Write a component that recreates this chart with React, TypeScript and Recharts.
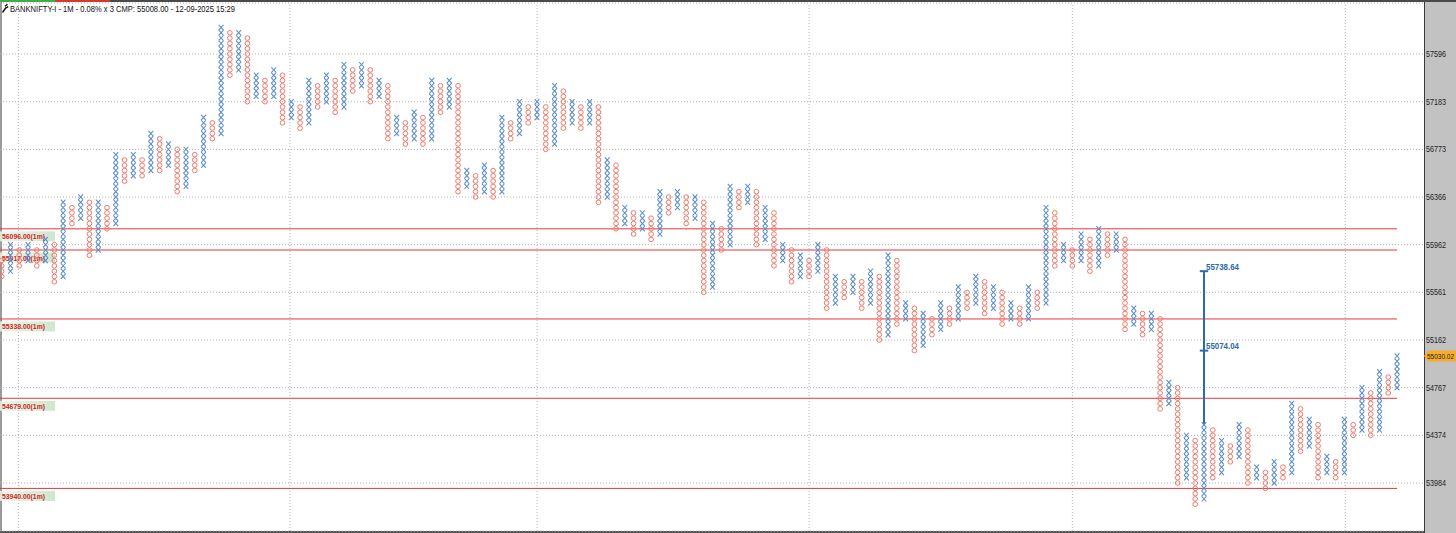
import React from 'react';
import { ComposedChart, Scatter, XAxis, YAxis, CartesianGrid, ReferenceLine } from 'recharts';

// ---- chart data ----
const TITLE = 'BANKNIFTY-I - 1M - 0.08% x 3 CMP: 55008.00 - 12-09-2025 15:29';
const BOX_PCT = 0.08; // box size in percent
const BASE_PRICE = 53984; // price of box number 0

const yTickLabels = [53984, 54374, 54767, 55162, 55561, 55962, 56366, 56773, 57183, 57596];

// Point & Figure columns (box numbers counted from the 53984 level)
const columnTypes = (
  'OXOXOXOXOXOXOXOXOXOX' + 'OXOXOXOXOXOXOXOXOXOX' + 'OXOXOXOXOXOXOXOXOXOX' + 'OXOXOXOXOXOXOXOXOXOX' +
  'OXOXOXOXOXOXOXOXOXOX' + 'OXOXOXOXOXOXOXOXOXOX' + 'OXOXOXOXOXOXOXOXOXOX' + 'OXOXOXOXOXOXOXOXOXOX'
).split('');

const columnHighs = [
  42, 45, 44, 45, 44, 46, 45, 53, 52, 54,
  53, 53, 52, 62, 61, 62, 61, 66, 65, 64,
  63, 63, 62, 69, 68, 86, 85, 85, 84, 77,
  76, 78, 77, 72, 71, 76, 75, 77, 76, 79,
  78, 79, 78, 76, 75, 69, 68, 70, 69, 76,
  75, 76, 75, 59, 58, 60, 59, 69, 68, 72,
  71, 72, 71, 75, 74, 72, 71, 72, 71, 61,
  60, 52, 51, 51, 50, 55, 54, 55, 54, 54,
  53, 49, 48, 56, 55, 56, 55, 52, 51, 45,
  44, 43, 42, 45, 44, 39, 38, 39, 38, 40,
  39, 43, 42, 34, 33, 32, 31, 34, 33, 37,
  36, 39, 38, 37, 36, 34, 33, 37, 36, 52,
  51, 45, 44, 47, 46, 48, 47, 47, 46, 33,
  32, 32, 31, 19, 18, 9, 8, 11, 10, 8,
  7, 11, 10, 3, 2, 4, 3, 15, 14, 12,
  11, 5, 4, 12, 11, 18, 17, 21, 20, 24,
];

const columnLows = [
  39, 40, 41, 42, 41, 42, 38, 39, 49, 50,
  43, 44, 48, 49, 57, 58, 58, 59, 59, 60,
  55, 56, 59, 60, 65, 66, 77, 78, 72, 73,
  72, 73, 68, 69, 67, 68, 71, 72, 70, 71,
  74, 75, 72, 73, 65, 66, 64, 65, 64, 65,
  70, 71, 55, 56, 54, 55, 54, 55, 65, 66,
  68, 69, 63, 64, 67, 68, 67, 68, 53, 54,
  48, 49, 47, 48, 46, 47, 51, 52, 49, 50,
  36, 37, 44, 45, 52, 53, 45, 46, 41, 42,
  38, 39, 39, 40, 33, 34, 35, 36, 33, 34,
  27, 28, 30, 31, 25, 26, 28, 29, 30, 31,
  33, 34, 32, 33, 30, 31, 30, 31, 33, 34,
  41, 42, 41, 42, 40, 41, 43, 44, 29, 30,
  28, 29, 14, 15, 0, 1, -4, -3, 1, 2,
  4, 5, 0, 1, -1, 0, 1, 2, 6, 7,
  1, 2, 1, 2, 9, 10, 9, 10, 17, 18,
];

const levelPrices = [56096, 55917, 55338, 54679, 53940];
const levelTags = ['56096.00(1m)', '55917.00(1m)', '55338.00(1m)', '54679.00(1m)', '53940.00(1m)'];

const countColumn = 137; // column carrying the vertical count
const countTargets = [55738.64, 55074.04];
const lastPrice = 55030.02;

const sessionBreaks = [1.9, 32.85, 61, 92, 122, 153.1]; // in column units

// ---- styling / layout ----
const W = 1456;
const H = 533;
const AXIS_W = 32;
const X_COLOR = '#5b8dca';
const O_COLOR = '#ee7a6c';
const LEVEL_COLOR = '#e8353a';
const COUNT_COLOR = '#2d6aad';
const FONT = '"Liberation Sans", Arial, sans-serif';
const X_DOMAIN: [number, number] = [-0.194, 162.07];
const Y_DOMAIN: [number, number] = [-9.06, 90.63];

const boxOf = (price: number) => Math.log(price / BASE_PRICE) / Math.log(1 + BOX_PCT / 100);

const XMark = (p: any) => {
  const { cx, cy } = p;
  if (cx == null || cy == null) return <g />;
  const w = 2.4;
  const h = 2.6;
  return (
    <path
      d={`M${cx - w},${cy - h}L${cx + w},${cy + h}M${cx + w},${cy - h}L${cx - w},${cy + h}`}
      stroke={X_COLOR}
      strokeWidth={1.05}
      fill="none"
    />
  );
};

const OMark = (p: any) => {
  const { cx, cy } = p;
  if (cx == null || cy == null) return <g />;
  return <ellipse cx={cx} cy={cy} rx={2.35} ry={2.3} stroke={O_COLOR} strokeWidth={1} fill="none" />;
};

const PriceTick = (p: any) => {
  const { x, y, payload } = p;
  const label = yTickLabels.find((l) => Math.abs(boxOf(l) - payload.value) < 0.01);
  return (
    <text x={x} y={y} dy={3} fontSize={8.5} fill="#222" fontFamily={FONT} textLength={20} lengthAdjust="spacingAndGlyphs">
      {label}
    </text>
  );
};

const LevelTag = (p: any) => {
  const { viewBox, text, gid } = p;
  if (!viewBox) return null;
  const x = viewBox.x;
  const y = viewBox.y;
  return (
    <g>
      <defs>
        <linearGradient id={gid} x1="0" y1="0" x2="1" y2="0">
          <stop offset="0%" stopColor="#eaf5ea" stopOpacity={0.85} />
          <stop offset="100%" stopColor="#c4e2c4" stopOpacity={0.85} />
        </linearGradient>
      </defs>
      <rect x={x} y={y + 2.5} width={55} height={10} fill={`url(#${gid})`} />
      <text x={x + 2} y={y + 10.5} fontSize={8} fontWeight="bold" fill="#d41c1c" fontFamily={FONT} textLength={43} lengthAdjust="spacingAndGlyphs">
        {text}
      </text>
    </g>
  );
};

const CountLabel = (p: any) => {
  const { viewBox, text } = p;
  if (!viewBox) return null;
  const x = viewBox.x + viewBox.width / 2 + 2;
  return (
    <text x={x} y={viewBox.y - 1.5} fontSize={8.5} fontWeight="bold" fill={COUNT_COLOR} fontFamily={FONT} textLength={33} lengthAdjust="spacingAndGlyphs">
      {text}
    </text>
  );
};

const PriceTag = (p: any) => {
  const { viewBox, text } = p;
  if (!viewBox) return null;
  const x = viewBox.x + viewBox.width;
  const y = viewBox.y;
  return (
    <g>
      <path d={`M${x},${y}L${x + 4},${y - 5.5}L${x + 32},${y - 5.5}L${x + 32},${y + 5.5}L${x + 4},${y + 5.5}Z`} fill="#f6ad2c" />
      <text x={x + 3} y={y + 3} fontSize={7} fill="#222" fontFamily={FONT} textLength={27} lengthAdjust="spacingAndGlyphs">
        {text}
      </text>
    </g>
  );
};

export default function App() {
  const xBoxes: { col: number; box: number }[] = [];
  const oBoxes: { col: number; box: number }[] = [];
  columnTypes.forEach((t, i) => {
    for (let b = columnLows[i]; b <= columnHighs[i]; b++) {
      (t === 'X' ? xBoxes : oBoxes).push({ col: i, box: b });
    }
  });
  const lastCol = columnTypes.length - 1;
  const yTicks = yTickLabels.map(boxOf);
  const countTop = boxOf(countTargets[0]);
  const countBase = columnHighs[countColumn];

  return (
    <div style={{ position: 'absolute', left: 0, top: 0, width: W, height: H, background: '#fff', overflow: 'hidden', fontFamily: FONT }}>
      {/* top status strip */}
      <div style={{ position: 'absolute', left: 0, top: 0, width: W, height: 2, background: '#4a4a4a' }} />
      <div style={{ position: 'absolute', left: 0, top: 0, width: 55, height: 2, background: '#3fae49' }} />
      <div style={{ position: 'absolute', left: 55, top: 0, width: 55, height: 2, background: '#d63a2f' }} />
      {/* right price panel */}
      <div style={{ position: 'absolute', left: W - AXIS_W, top: 2, width: AXIS_W, height: H - 2, background: '#c2c2c2', borderLeft: '1px solid #3a3a3a', boxSizing: 'border-box' }} />
      {/* left and bottom borders */}
      <div style={{ position: 'absolute', left: 0, top: 2, width: 2, height: H - 2, background: '#9a9a9a' }} />
      <div style={{ position: 'absolute', left: 0, top: H - 2, width: W - AXIS_W, height: 2, background: '#555' }} />

      <div style={{ position: 'absolute', left: 0, top: 0 }}>
        <ComposedChart width={W} height={H} margin={{ top: 3, right: 0, bottom: 2, left: 0 }}>
          <CartesianGrid vertical={false} stroke="#b4b4b4" strokeDasharray="1 2" />
          <XAxis type="number" dataKey="col" domain={X_DOMAIN} allowDataOverflow hide />
          <YAxis
            type="number"
            dataKey="box"
            orientation="right"
            width={AXIS_W}
            domain={Y_DOMAIN}
            allowDataOverflow
            ticks={yTicks}
            tick={<PriceTick />}
            tickLine={false}
            axisLine={false}
            tickSize={0}
            tickMargin={2}
            interval={0}
          />
          {sessionBreaks.map((c, i) => (
            <ReferenceLine key={`s${i}`} x={c} stroke="#b4b4b4" strokeDasharray="1 2" />
          ))}
          <Scatter data={xBoxes} shape={<XMark />} isAnimationActive={false} />
          <Scatter data={oBoxes} shape={<OMark />} isAnimationActive={false} />
          {levelPrices.map((p, i) => (
            <ReferenceLine
              key={`l${i}`}
              segment={[{ x: X_DOMAIN[0], y: boxOf(p) }, { x: lastCol, y: boxOf(p) }]}
              stroke={LEVEL_COLOR}
              strokeWidth={1}
              label={<LevelTag text={levelTags[i]} gid={`lg${i}`} />}
            />
          ))}
          <ReferenceLine
            segment={[{ x: countColumn, y: countBase }, { x: countColumn, y: countTop }]}
            stroke={COUNT_COLOR}
            strokeWidth={2}
          />
          {countTargets.map((t, i) => (
            <ReferenceLine
              key={`c${i}`}
              segment={[{ x: countColumn - 0.48, y: boxOf(t) }, { x: countColumn + 0.48, y: boxOf(t) }]}
              stroke={COUNT_COLOR}
              strokeWidth={2}
              label={<CountLabel text={t.toFixed(2)} />}
            />
          ))}
          <ReferenceLine y={boxOf(lastPrice)} stroke="none" label={<PriceTag text={lastPrice.toFixed(2)} />} />
        </ComposedChart>
      </div>

      {/* title */}
      <svg width={300} height={20} style={{ position: 'absolute', left: 0, top: 0 }}>
        <path d="M2.5,12.5L6,7.5M5,6.2L7.5,4.2M5.2,8.4L8.2,6.6" stroke="#111" strokeWidth={1.4} fill="none" />
        <text x={10} y={12} fontSize={9.5} fill="#111" fontFamily={FONT} textLength={225} lengthAdjust="spacingAndGlyphs">
          {TITLE}
        </text>
      </svg>
    </div>
  );
}
